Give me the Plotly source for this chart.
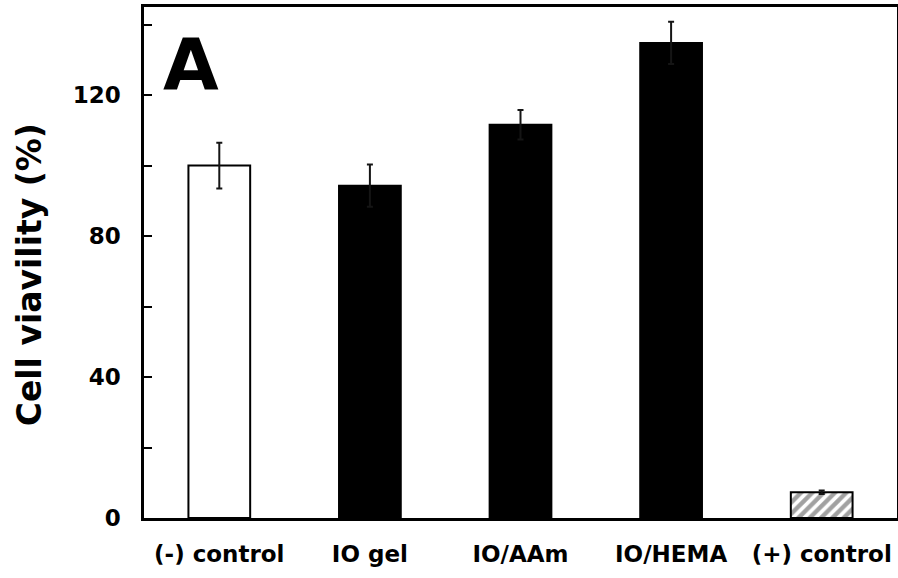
import plotly.graph_objects as go

categories = ["(-) control", "IO gel", "IO/AAm", "IO/HEMA", "(+) control"]
viability = [100.0, 94.3, 111.6, 134.8, 7.3]
errors = [6.5, 6.0, 4.2, 6.0, 0.5]
bar_colors = ["white", "black", "black", "black", "white"]
bar_patterns = ["", "", "", "", "/"]
y_tickvals = [0, 40, 80, 120]

FONT = "DejaVu Sans"

fig = go.Figure()
fig.add_trace(go.Bar(
    x=categories,
    y=viability,
    marker=dict(
        color=bar_colors,
        line=dict(color="black", width=2),
        pattern=dict(shape=bar_patterns, fgcolor="black", bgcolor="white",
                     size=8, solidity=0.55),
    ),
    error_y=dict(type="data", array=errors, visible=True,
                 color="#151515", thickness=2, width=3),
    width=0.41,
))

fig.add_annotation(
    text="A", xref="paper", yref="paper", x=0.023, y=0.974,
    xanchor="left", yanchor="top", showarrow=False,
    font=dict(family=FONT, size=72, color="black", weight="bold"),
)

fig.add_annotation(
    text="Cell viavility (%)", xref="paper", yref="paper",
    x=-0.152, y=0.476, xanchor="center", yanchor="middle",
    textangle=-90, showarrow=False,
    font=dict(family=FONT, size=33, color="black", weight="bold"),
)

fig.update_layout(
    width=898, height=578,
    margin=dict(l=144, r=1, t=7, b=60),
    paper_bgcolor="white", plot_bgcolor="white",
    showlegend=False,
    font=dict(family=FONT, color="black", weight="bold"),
    xaxis=dict(
        automargin=False,
        showline=True, linecolor="black", linewidth=2.5, mirror=True,
        ticks="", showgrid=False, zeroline=False,
        tickfont=dict(family=FONT, size=23, color="black", weight="bold"),
        ticklabelstandoff=14,
    ),
    yaxis=dict(
        automargin=False,
        range=[0, 145], tickvals=y_tickvals,
        showline=True, linecolor="black", linewidth=2.5, mirror=True,
        ticks="inside", ticklen=8, tickwidth=2, tickcolor="black",
        minor=dict(dtick=20, ticks="inside", ticklen=8, tickwidth=2, tickcolor="black"),
        showgrid=False, zeroline=False,
        tickfont=dict(family=FONT, size=23, color="black", weight="bold"),
        ticklabelstandoff=16,
    ),
)

fig.write_html("out.html", config={"displayModeBar": False},
               post_script="document.body.style.margin='0';document.body.style.overflow='hidden';")
